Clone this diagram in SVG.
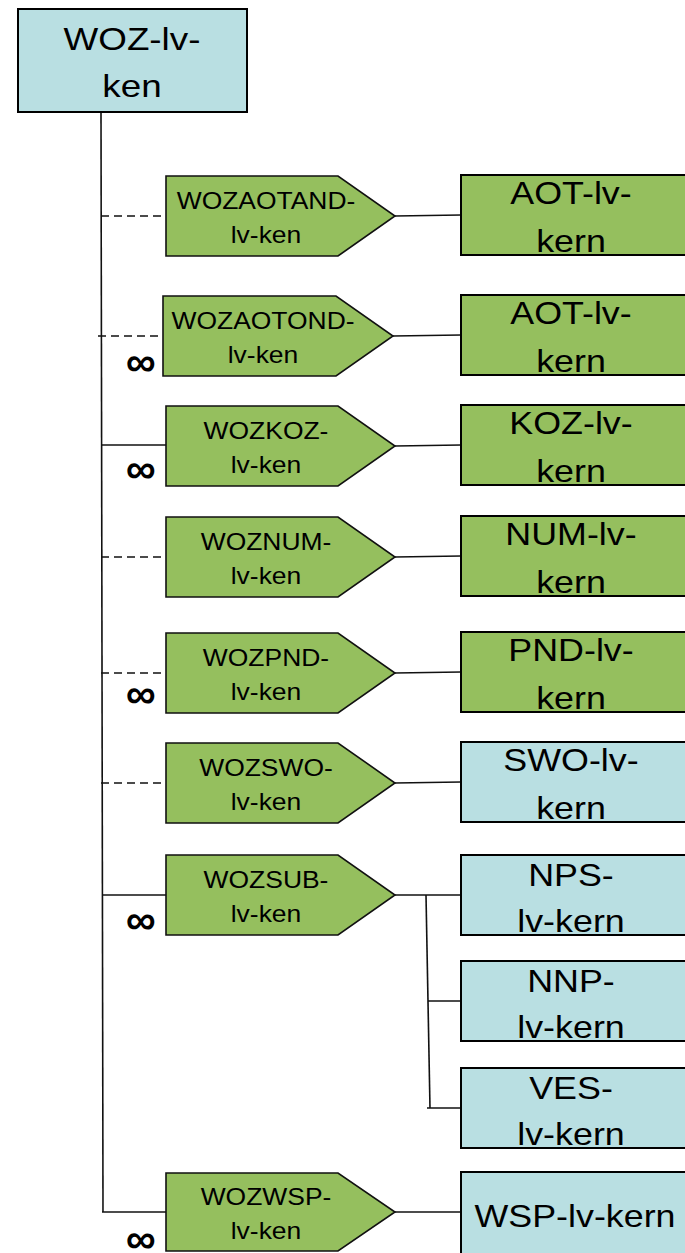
<svg xmlns="http://www.w3.org/2000/svg" width="685" height="1253" viewBox="0 0 685 1253">
<style>
.blue{fill:#b9dfe2;stroke:#000;stroke-width:2}
.green{fill:#95bf5e;stroke:#000;stroke-width:2}
.pent{fill:#95bf5e;stroke:#111;stroke-width:1.6}
.big{font-family:"Liberation Sans",Arial,sans-serif;font-size:32px;fill:#000;text-anchor:middle}
.sm{font-family:"Liberation Sans",Arial,sans-serif;font-size:23px;fill:#000;text-anchor:middle}
.inf{font-family:"Liberation Sans",Arial,sans-serif;font-size:42px;font-weight:bold;fill:#000;text-anchor:middle}
.ln{stroke:#111;stroke-width:1.6;fill:none}
.ds{stroke:#111;stroke-width:1.6;fill:none;stroke-dasharray:8 5}
</style>
<rect width="685" height="1253" fill="#fff"/>
<g id="connectors">
<line class="ln" x1="101" y1="112" x2="103" y2="1212"/>
<line class="ds" x1="101" y1="216" x2="166" y2="216"/>
<line class="ds" x1="98" y1="336" x2="163" y2="336"/>
<line class="ln" x1="101" y1="445" x2="166" y2="445"/>
<line class="ds" x1="101" y1="557" x2="166" y2="557"/>
<line class="ds" x1="101" y1="673" x2="166" y2="673"/>
<line class="ds" x1="101" y1="783" x2="166" y2="783"/>
<line class="ln" x1="102" y1="895" x2="166" y2="895"/>
<line class="ln" x1="102" y1="1212" x2="166" y2="1212"/>
<line class="ln" x1="395" y1="216" x2="461" y2="215"/>
<line class="ln" x1="393" y1="336" x2="461" y2="335"/>
<line class="ln" x1="395" y1="446" x2="461" y2="445"/>
<line class="ln" x1="395" y1="557" x2="461" y2="556"/>
<line class="ln" x1="395" y1="673" x2="461" y2="672"/>
<line class="ln" x1="395" y1="783" x2="461" y2="782"/>
<line class="ln" x1="395" y1="895" x2="461" y2="895"/>
<line class="ln" x1="426" y1="895" x2="430" y2="1108"/>
<line class="ln" x1="428" y1="1001" x2="461" y2="1001"/>
<line class="ln" x1="427" y1="1108" x2="461" y2="1108"/>
<line class="ln" x1="395" y1="1212" x2="461" y2="1212"/>
</g>
<g id="woz">
<rect class="blue" x="18" y="9" width="229" height="103" stroke-width="1.6"/>
<text class="big" transform="translate(132,50) scale(1.15,1)">WOZ-lv-</text>
<text class="big" transform="translate(132,97) scale(1.15,1)">ken</text>
</g>
<g id="p1">
<polygon class="pent" points="166,176 338,176 395,216 338,256 166,256"/>
<text class="sm" transform="translate(266,209) scale(1.15,1)">WOZAOTAND-</text>
<text class="sm" transform="translate(266,243) scale(1.15,1)">lv-ken</text>
</g>
<g id="p2">
<polygon class="pent" points="163,296 336,296 393,336 336,376 163,376"/>
<text class="sm" transform="translate(263,329) scale(1.15,1)">WOZAOTOND-</text>
<text class="sm" transform="translate(263,363) scale(1.15,1)">lv-ken</text>
<text class="inf" x="141" y="376">∞</text>
</g>
<g id="p3">
<polygon class="pent" points="166,406 338,406 395,446 338,486 166,486"/>
<text class="sm" transform="translate(266,439) scale(1.15,1)">WOZKOZ-</text>
<text class="sm" transform="translate(266,473) scale(1.15,1)">lv-ken</text>
<text class="inf" x="141" y="483">∞</text>
</g>
<g id="p4">
<polygon class="pent" points="166,517 338,517 395,557 338,597 166,597"/>
<text class="sm" transform="translate(266,550) scale(1.15,1)">WOZNUM-</text>
<text class="sm" transform="translate(266,584) scale(1.15,1)">lv-ken</text>
</g>
<g id="p5">
<polygon class="pent" points="166,633 338,633 395,673 338,713 166,713"/>
<text class="sm" transform="translate(266,666) scale(1.15,1)">WOZPND-</text>
<text class="sm" transform="translate(266,700) scale(1.15,1)">lv-ken</text>
<text class="inf" x="141" y="708">∞</text>
</g>
<g id="p6">
<polygon class="pent" points="166,743 338,743 395,783 338,823 166,823"/>
<text class="sm" transform="translate(266,776) scale(1.15,1)">WOZSWO-</text>
<text class="sm" transform="translate(266,810) scale(1.15,1)">lv-ken</text>
</g>
<g id="p7">
<polygon class="pent" points="166,855 338,855 395,895 338,935 166,935"/>
<text class="sm" transform="translate(266,888) scale(1.15,1)">WOZSUB-</text>
<text class="sm" transform="translate(266,922) scale(1.15,1)">lv-ken</text>
<text class="inf" x="141" y="934">∞</text>
</g>
<g id="p8">
<polygon class="pent" points="166,1173 338,1173 395,1212 338,1251 166,1251"/>
<text class="sm" transform="translate(266,1205) scale(1.15,1)">WOZWSP-</text>
<text class="sm" transform="translate(266,1239) scale(1.15,1)">lv-ken</text>
<text class="inf" x="141" y="1253">∞</text>
</g>
<g id="aot1">
<rect class="green" x="461" y="175" width="240" height="80"/>
<text class="big" transform="translate(571,204) scale(1.12,1)">AOT-lv-</text>
<text class="big" transform="translate(571,252) scale(1.12,1)">kern</text>
</g>
<g id="aot2">
<rect class="green" x="461" y="295" width="240" height="80"/>
<text class="big" transform="translate(571,324) scale(1.12,1)">AOT-lv-</text>
<text class="big" transform="translate(571,372) scale(1.12,1)">kern</text>
</g>
<g id="koz">
<rect class="green" x="461" y="405" width="240" height="80"/>
<text class="big" transform="translate(571,434) scale(1.12,1)">KOZ-lv-</text>
<text class="big" transform="translate(571,482) scale(1.12,1)">kern</text>
</g>
<g id="num">
<rect class="green" x="461" y="516" width="240" height="80"/>
<text class="big" transform="translate(571,545) scale(1.12,1)">NUM-lv-</text>
<text class="big" transform="translate(571,593) scale(1.12,1)">kern</text>
</g>
<g id="pnd">
<rect class="green" x="461" y="632" width="240" height="80"/>
<text class="big" transform="translate(571,661) scale(1.12,1)">PND-lv-</text>
<text class="big" transform="translate(571,709) scale(1.12,1)">kern</text>
</g>
<g id="swo">
<rect class="blue" x="461" y="742" width="240" height="80"/>
<text class="big" transform="translate(571,771) scale(1.12,1)">SWO-lv-</text>
<text class="big" transform="translate(571,819) scale(1.12,1)">kern</text>
</g>
<g id="nps">
<rect class="blue" x="461" y="855" width="240" height="80"/>
<text class="big" transform="translate(571,886) scale(1.12,1)">NPS-</text>
<text class="big" transform="translate(571,932) scale(1.12,1)">lv-kern</text>
</g>
<g id="nnp">
<rect class="blue" x="461" y="961" width="240" height="80"/>
<text class="big" transform="translate(571,992) scale(1.12,1)">NNP-</text>
<text class="big" transform="translate(571,1038) scale(1.12,1)">lv-kern</text>
</g>
<g id="ves">
<rect class="blue" x="461" y="1068" width="240" height="80"/>
<text class="big" transform="translate(571,1099) scale(1.12,1)">VES-</text>
<text class="big" transform="translate(571,1145) scale(1.12,1)">lv-kern</text>
</g>
<g id="wsp">
<rect class="blue" x="461" y="1172" width="240" height="82"/>
<text class="big" transform="translate(575,1227) scale(1.12,1)">WSP-lv-kern</text>
</g>
</svg>
